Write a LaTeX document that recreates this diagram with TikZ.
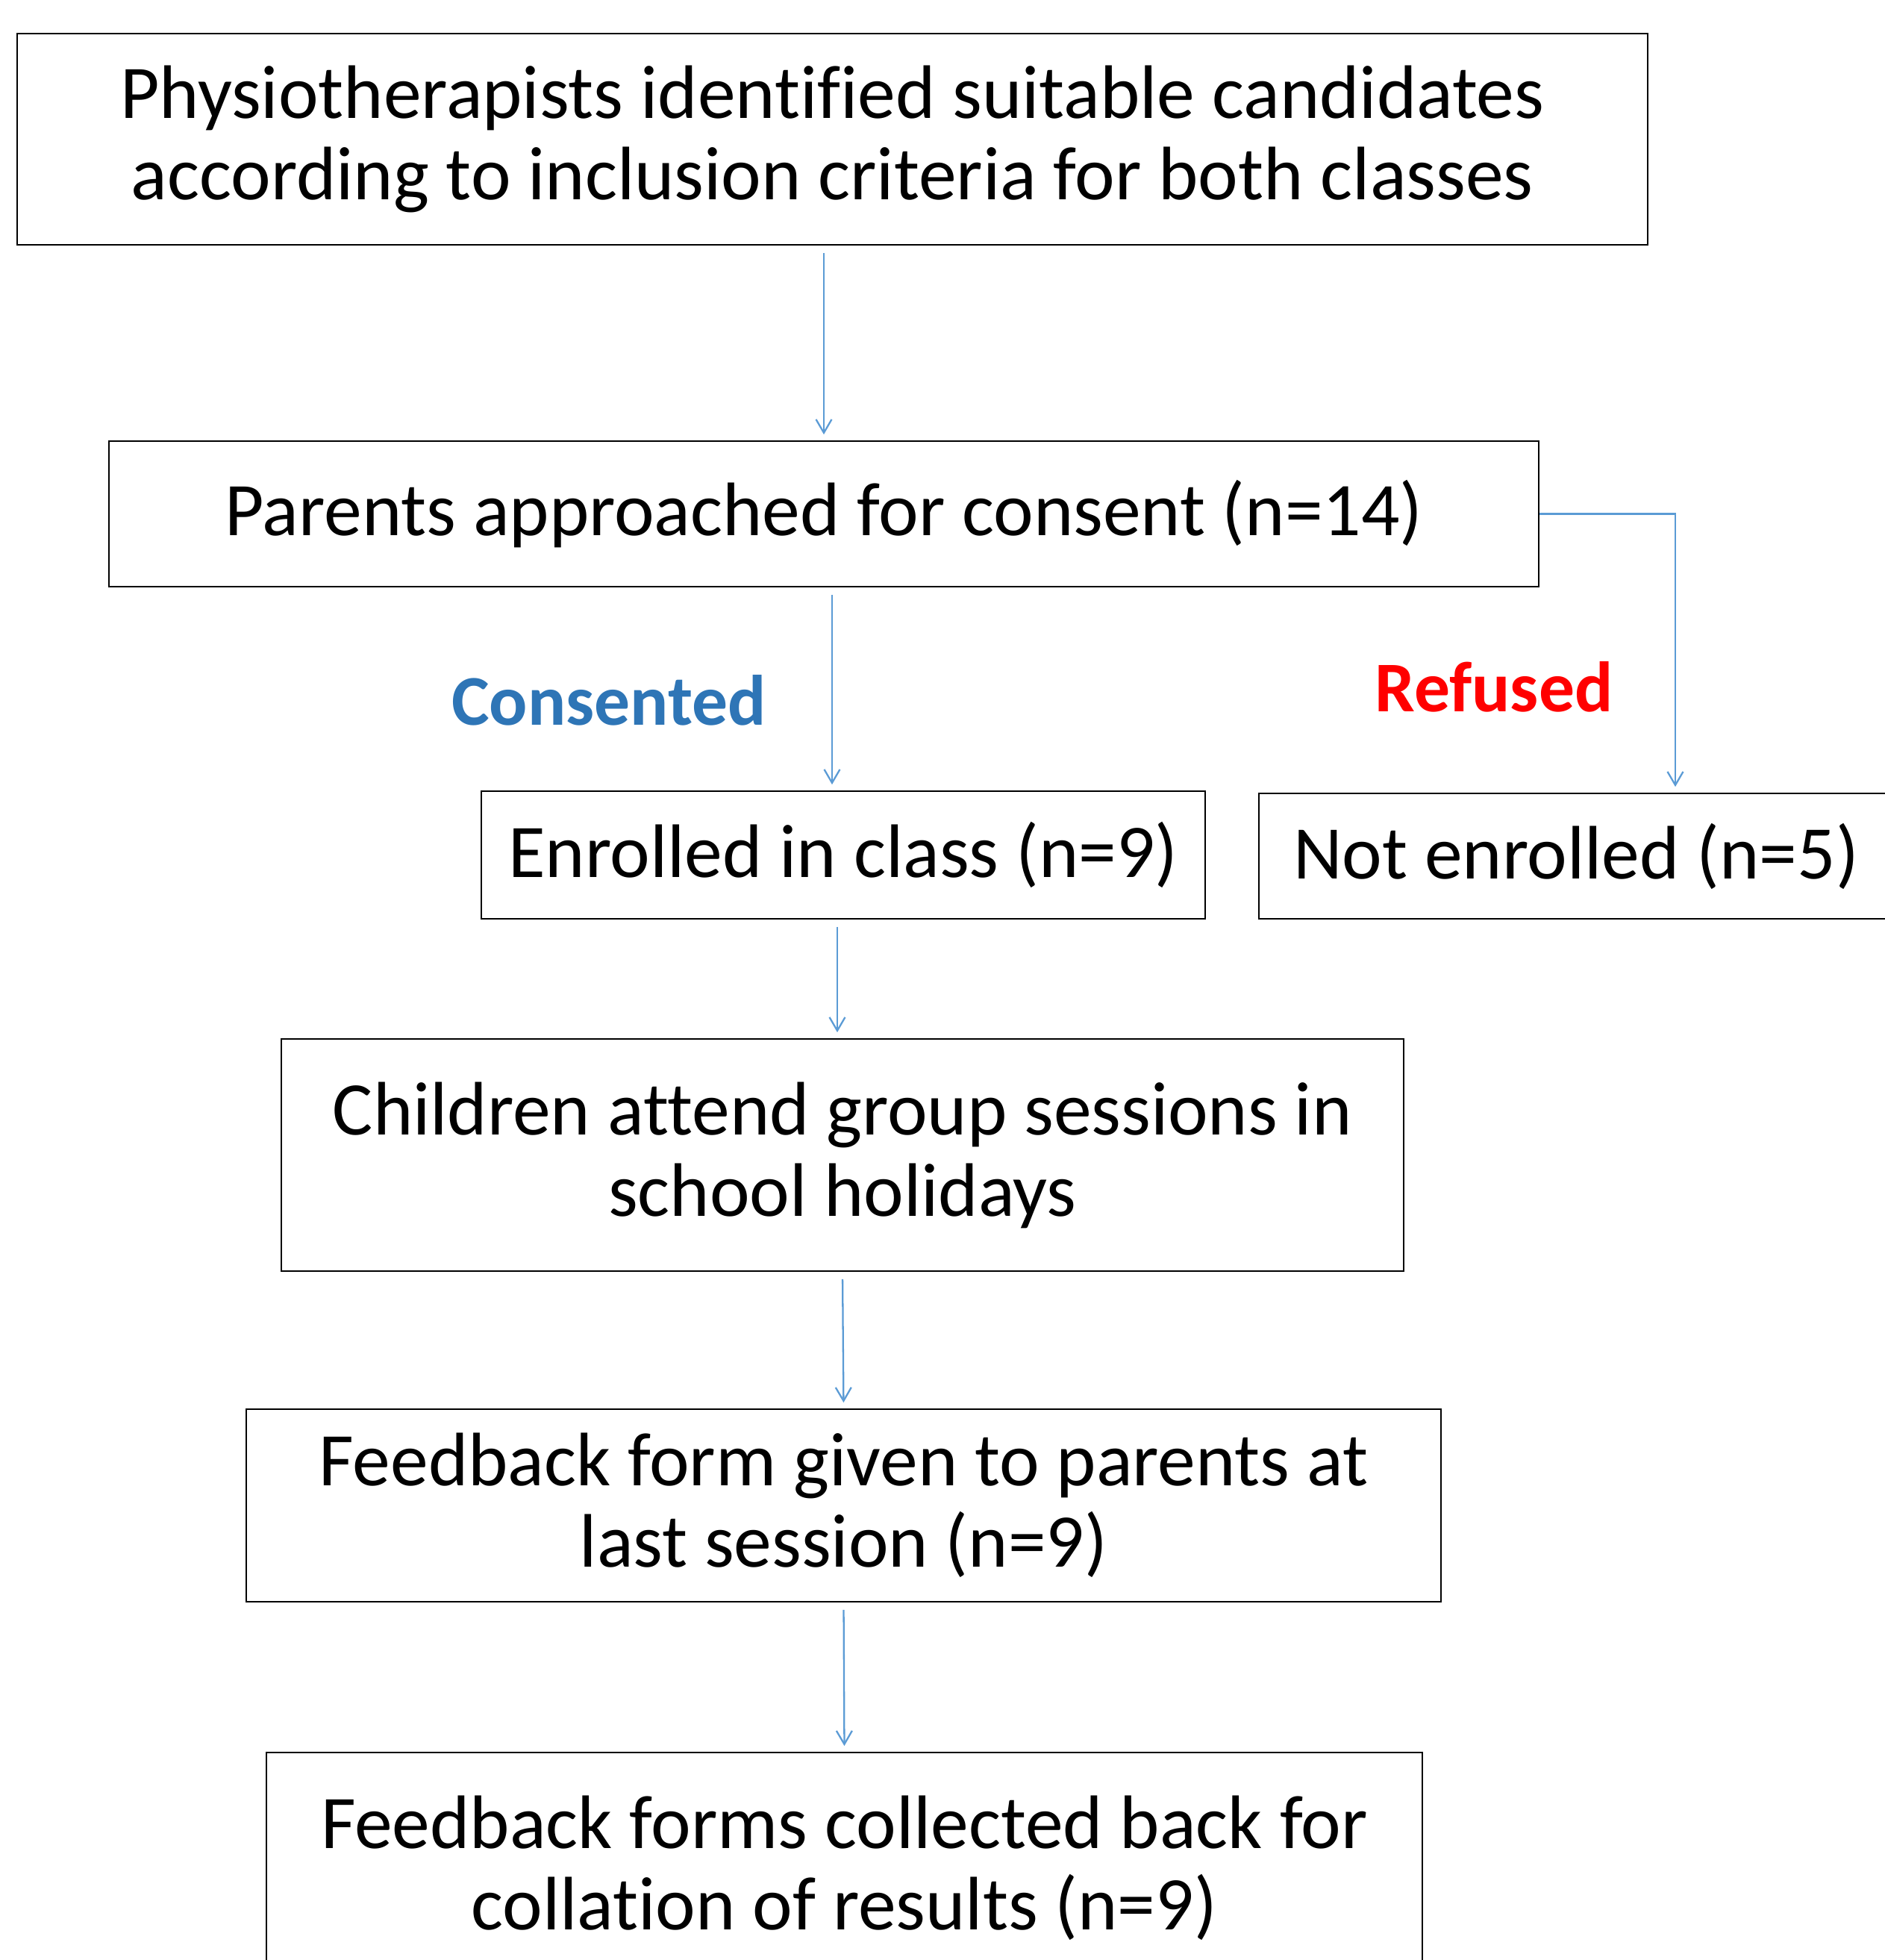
\documentclass[tikz,border=0pt]{standalone}
\usepackage{fontspec}
\setmainfont{Carlito}[Ligatures={NoCommon}]
\usepackage{tikz}
\usetikzlibrary{arrows.meta,positioning}

\definecolor{flowblue}{RGB}{91,155,213}
\definecolor{consblue}{RGB}{46,117,182}

\begin{document}
\begin{tikzpicture}[
  >={Straight Barb[length=1.8mm,width=2.1mm]},
  font=\fontsize{28.9}{31}\selectfont,
  procnode/.style={draw,line width=0.5pt,align=center,inner sep=0pt},
  flowarrow/.style={->,draw=flowblue,line width=0.65pt,shorten <=1mm,shorten >=0.8mm},
  branchlabel/.style={font=\fontsize{27.2}{31}\selectfont\bfseries}
]
\useasboundingbox (0,0) rectangle (25.26,-26.26);
\clip (0,0) rectangle (25.26,-26.26);

% ---- boxes ----
\node[procnode,minimum width=21.85cm,minimum height=2.83cm] (identify) at (11.155,-1.865)
  {Physiotherapists identified suitable candidates\\according to inclusion criteria for both classes};
\node[procnode,minimum width=19.16cm,minimum height=1.95cm] (parents) at (11.04,-6.885)
  {Parents approached for consent (n=14)};
\node[procnode,minimum width=9.70cm,minimum height=1.71cm] (enrolled) at (11.30,-11.455)
  {Enrolled in class (n=9)};
\node[procnode,minimum width=8.50cm,minimum height=1.68cm] (notenrolled) at (21.12,-11.47)
  {Not enrolled (n=5)};
\node[procnode,minimum width=15.04cm,minimum height=3.11cm] (children) at (11.29,-15.475)
  {Children attend group sessions in\\school holidays};
\node[procnode,minimum width=16.01cm,minimum height=2.58cm] (feedform) at (11.305,-20.17)
  {Feedback form given to parents at\\last session (n=9)};
\node[procnode,minimum width=15.49cm,minimum height=3.10cm] (collected) at (11.315,-25.03)
  {Feedback forms collected back for\\collation of results (n=9)};

% ---- branch labels ----
\node[branchlabel,text=consblue] (consent) at (8.16,-9.38) {Consented};
\node[branchlabel,text=red] (refused) at (20.02,-9.20) {Refused};

% ---- connectors ----
\coordinate (consx) at (11.15,0);
\coordinate (enrx) at (11.22,0);
\coordinate (refdrop) at (22.45,0 |- notenrolled.north);
\draw[flowarrow] (identify.south -| parents.north) -- (parents.north);
\draw[flowarrow] (parents.south -| consx) -- (enrolled.north -| consx);
\draw[flowarrow,shorten <=0pt] (parents.east) -| (refdrop);
\draw[flowarrow] (enrolled.south -| enrx) -- (children.north -| enrx);
\draw[flowarrow] (children.south) -- (feedform.north);
\draw[flowarrow] (feedform.south) -- (collected.north);

\end{tikzpicture}
\end{document}
